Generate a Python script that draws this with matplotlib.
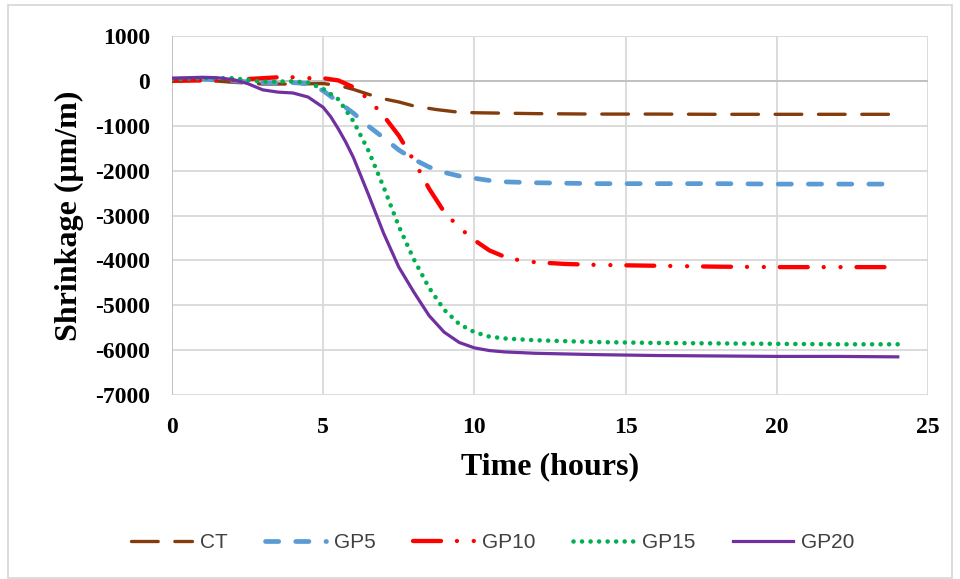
import matplotlib.pyplot as plt
import matplotlib.patches as patches

# series (time in hours, shrinkage in um/m)
ct_t = [0, 1, 2, 3, 4, 5, 5.5, 6, 6.5, 7, 7.5, 8, 8.75, 9.5, 10, 11, 12, 14, 16, 18, 20, 22, 24]
ct_y = [0, 20, -30, -70, -70, -60, -100, -190, -300, -400, -470, -560, -640, -700, -710,
        -720, -730, -740, -740, -745, -745, -745, -745]

gp5_t = [0, 1, 2, 3, 3.5, 4, 4.5, 5, 5.5, 6, 6.5, 7, 7.5, 8, 8.5, 9, 9.5, 10, 10.5, 11,
         12, 13, 14, 16, 18, 20, 22, 24]
gp5_y = [40, 40, 0, -40, -50, -40, -60, -220, -470, -720, -1010, -1270, -1540, -1750, -1920,
         -2040, -2120, -2170, -2220, -2250, -2270, -2280, -2290, -2290, -2290, -2300, -2300, -2300]

gp10_t = [0, 1, 2, 2.5, 3, 3.5, 4, 4.5, 5, 5.5, 6, 6.5, 7, 7.5, 8, 8.5, 9, 9.5, 10, 10.5,
          11, 11.5, 12, 13, 14, 16, 18, 20, 22, 24]
gp10_y = [0, 10, 20, 40, 60, 80, 80, 60, 60, 10, -140, -410, -780, -1220, -1780, -2400,
          -2920, -3270, -3550, -3780, -3920, -4000, -4040, -4080, -4100, -4120, -4140,
          -4150, -4150, -4150]

gp15_t = [0, 1, 2, 2.5, 3, 4, 4.5, 5, 5.5, 6, 6.5, 7, 7.5, 8, 8.5, 9, 9.5, 10, 10.5, 11,
          12, 13, 14, 16, 18, 20, 22, 24]
gp15_y = [30, 60, 60, 20, -20, -10, -40, -180, -410, -900, -1560, -2370, -3240, -3980,
          -4610, -5100, -5420, -5600, -5700, -5740, -5780, -5800, -5820, -5840, -5850,
          -5860, -5870, -5870]

gp20_t = [0, 1, 1.5, 2, 2.5, 3, 3.5, 4, 4.5, 5, 5.25, 5.5, 5.75, 6, 6.5, 7, 7.5, 8, 8.5, 9,
          9.5, 10, 10.5, 11, 12, 14, 16, 18, 20, 22, 24]
gp20_y = [60, 80, 70, 30, -60, -200, -250, -270, -360, -590, -800, -1070, -1370, -1710,
          -2540, -3400, -4150, -4710, -5230, -5600, -5830, -5950, -6010, -6040, -6070,
          -6100, -6120, -6130, -6140, -6140, -6150]

x_ticks = [0, 5, 10, 15, 20, 25]
y_ticks = [1000, 0, -1000, -2000, -3000, -4000, -5000, -6000, -7000]

serif = ['Liberation Serif', 'DejaVu Serif']

fig = plt.figure(figsize=(9.6, 5.79), dpi=100)
ax = fig.add_axes([172 / 960, 1 - 395 / 579, (928 - 172) / 960, (395 - 36) / 579])

ax.plot(ct_t, ct_y, color='#843C0C', lw=2.4, linestyle=(0, (8.0, 5.0)),
        dash_capstyle='round', label='CT')
ax.plot(gp5_t, gp5_y, color='#5B9BD5', lw=3.4, linestyle=(0, (2.8, 3.6)),
        dash_capstyle='round', label='GP5')
ax.plot(gp10_t, gp10_y, color='#FF0000', lw=3.1, linestyle=(0, (6.5, 3.7, 0.01, 3.9, 0.01, 3.7)),
        dash_capstyle='round', label='GP10')
ax.plot(gp15_t, gp15_y, color='#00B050', lw=3.3, linestyle=(0, (0.01, 1.85)),
        dash_capstyle='round', label='GP15')
ax.plot(gp20_t, gp20_y, color='#7030A0', lw=2.3, label='GP20')

ax.set_xlim(0, 25)
ax.set_ylim(-7000, 1000)
ax.set_xticks(x_ticks)
ax.set_yticks(y_ticks)
ax.set_xticklabels([str(v) for v in x_ticks], fontfamily=serif, fontweight='bold', fontsize=17)
ax.set_yticklabels([str(v) for v in y_ticks], fontfamily=serif, fontweight='bold', fontsize=17)
ax.tick_params(length=0, pad=16)

ax.grid(True, color='#D9D9D9', lw=1.3)
ax.set_axisbelow(True)
for s in ax.spines.values():
    s.set_visible(False)
ax.axhline(0, color='#BFBFBF', lw=1.3, zorder=1)
ax.axvline(0, color='#BFBFBF', lw=1.3, zorder=1)

ax.set_xlabel('Time (hours)', fontfamily=serif, fontweight='bold', fontsize=23, labelpad=10)
ax.set_ylabel('Shrinkage (\u03bcm/m)', fontfamily=serif, fontweight='bold', fontsize=23, labelpad=8)

fig.legend(loc='center', bbox_to_anchor=(493 / 960, 1 - 543 / 579), ncol=5, frameon=False,
           prop={'family': ['Liberation Sans', 'DejaVu Sans'], 'size': 15},
           handlelength=2.9, handletextpad=0.4, columnspacing=1.8, labelcolor='#404040')

# chart area border
fig.patches.append(patches.Rectangle((8 / 960, 1 / 579), 944 / 960, 573 / 579,
                                     transform=fig.transFigure, fill=False,
                                     edgecolor='#D9D9D9', lw=1.3))

fig.savefig('out.png', dpi=100)
